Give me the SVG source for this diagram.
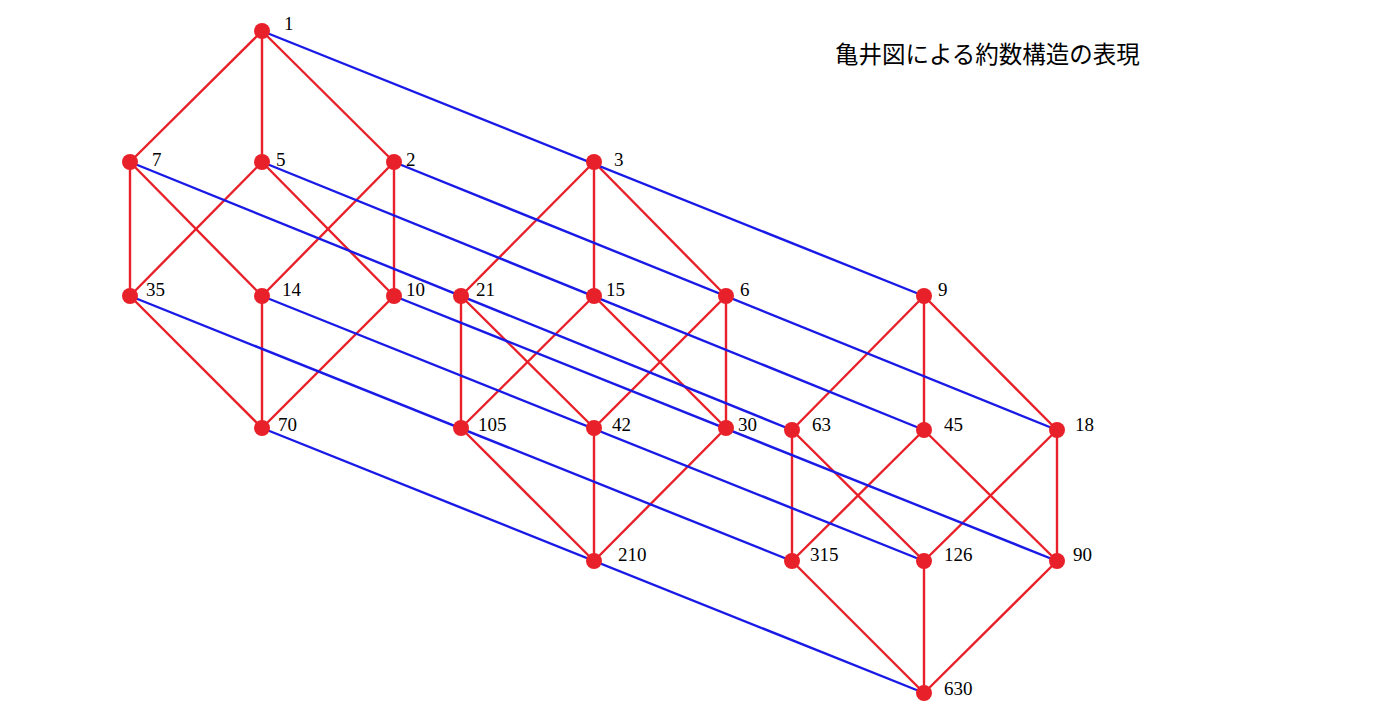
<svg xmlns="http://www.w3.org/2000/svg" width="1387" height="726" viewBox="0 0 1387 726">
<style>
.r{stroke:#e8202a;stroke-width:2.4}
.b{stroke:#1a1ae6;stroke-width:2.4}
circle{fill:#e8202a}
text{font-family:"Liberation Serif",serif;font-size:19px;fill:#000}
.t{font-family:"Noto Sans CJK JP",sans-serif;font-size:23.5px}
</style>
<rect width="1387" height="726" fill="#fff"/>
<text class="t" x="835" y="63">亀井図による約数構造の表現</text>
<g id="connectors">
<g class="r">
<line x1="262" y1="31" x2="130" y2="162"/><line x1="262" y1="31" x2="262" y2="162"/><line x1="262" y1="31" x2="394" y2="162"/>
<line x1="130" y1="162" x2="130" y2="296"/><line x1="130" y1="162" x2="262" y2="296"/>
<line x1="262" y1="162" x2="130" y2="296"/><line x1="262" y1="162" x2="394" y2="296"/>
<line x1="394" y1="162" x2="262" y2="296"/><line x1="394" y1="162" x2="394" y2="296"/>
<line x1="130" y1="296" x2="262" y2="428"/><line x1="262" y1="296" x2="262" y2="428"/><line x1="394" y1="296" x2="262" y2="428"/>
<line x1="594" y1="162" x2="461" y2="296"/><line x1="594" y1="162" x2="594" y2="296"/><line x1="594" y1="162" x2="726" y2="296"/>
<line x1="461" y1="296" x2="461" y2="428"/><line x1="461" y1="296" x2="594" y2="428"/>
<line x1="594" y1="296" x2="461" y2="428"/><line x1="594" y1="296" x2="726" y2="428"/>
<line x1="726" y1="296" x2="594" y2="428"/><line x1="726" y1="296" x2="726" y2="428"/>
<line x1="461" y1="428" x2="594" y2="561"/><line x1="594" y1="428" x2="594" y2="561"/><line x1="726" y1="428" x2="594" y2="561"/>
<line x1="924" y1="296" x2="792" y2="430"/><line x1="924" y1="296" x2="924" y2="430"/><line x1="924" y1="296" x2="1057" y2="430"/>
<line x1="792" y1="430" x2="792" y2="561"/><line x1="792" y1="430" x2="924" y2="561"/>
<line x1="924" y1="430" x2="792" y2="561"/><line x1="924" y1="430" x2="1057" y2="561"/>
<line x1="1057" y1="430" x2="924" y2="561"/><line x1="1057" y1="430" x2="1057" y2="561"/>
<line x1="792" y1="561" x2="924" y2="693"/><line x1="924" y1="561" x2="924" y2="693"/><line x1="1057" y1="561" x2="924" y2="693"/>
</g>
<g class="b">
<line x1="262" y1="31" x2="924" y2="296"/>
<line x1="130" y1="162" x2="792" y2="430"/>
<line x1="262" y1="162" x2="924" y2="430"/>
<line x1="394" y1="162" x2="1057" y2="430"/>
<line x1="130" y1="296" x2="792" y2="561"/>
<line x1="262" y1="296" x2="924" y2="561"/>
<line x1="394" y1="296" x2="1057" y2="561"/>
<line x1="262" y1="428" x2="924" y2="693"/>
</g>
</g>
<g id="n1"><circle cx="262" cy="31" r="8"/><text x="284" y="30">1</text></g>
<g id="n7"><circle cx="130" cy="162" r="8"/><text x="152" y="166">7</text></g>
<g id="n5"><circle cx="262" cy="162" r="8"/><text x="276" y="166">5</text></g>
<g id="n2"><circle cx="394" cy="162" r="8"/><text x="406" y="166">2</text></g>
<g id="n3"><circle cx="594" cy="162" r="8"/><text x="614" y="166">3</text></g>
<g id="n35"><circle cx="130" cy="296" r="8"/><text x="146" y="296">35</text></g>
<g id="n14"><circle cx="262" cy="296" r="8"/><text x="282" y="296">14</text></g>
<g id="n10"><circle cx="394" cy="296" r="8"/><text x="406" y="296">10</text></g>
<g id="n21"><circle cx="461" cy="296" r="8"/><text x="476" y="296">21</text></g>
<g id="n15"><circle cx="594" cy="296" r="8"/><text x="606" y="296">15</text></g>
<g id="n6"><circle cx="726" cy="296" r="8"/><text x="740" y="296">6</text></g>
<g id="n9"><circle cx="924" cy="296" r="8"/><text x="938" y="296">9</text></g>
<g id="n70"><circle cx="262" cy="428" r="8"/><text x="278" y="431">70</text></g>
<g id="n105"><circle cx="461" cy="428" r="8"/><text x="478" y="431">105</text></g>
<g id="n42"><circle cx="594" cy="428" r="8"/><text x="612" y="431">42</text></g>
<g id="n30"><circle cx="726" cy="428" r="8"/><text x="738" y="431">30</text></g>
<g id="n63"><circle cx="792" cy="430" r="8"/><text x="812" y="431">63</text></g>
<g id="n45"><circle cx="924" cy="430" r="8"/><text x="944" y="431">45</text></g>
<g id="n18"><circle cx="1057" cy="430" r="8"/><text x="1075" y="431">18</text></g>
<g id="n210"><circle cx="594" cy="561" r="8"/><text x="618" y="561">210</text></g>
<g id="n315"><circle cx="792" cy="561" r="8"/><text x="810" y="561">315</text></g>
<g id="n126"><circle cx="924" cy="561" r="8"/><text x="944" y="561">126</text></g>
<g id="n90"><circle cx="1057" cy="561" r="8"/><text x="1073" y="561">90</text></g>
<g id="n630"><circle cx="924" cy="693" r="8"/><text x="944" y="695">630</text></g>
</svg>
